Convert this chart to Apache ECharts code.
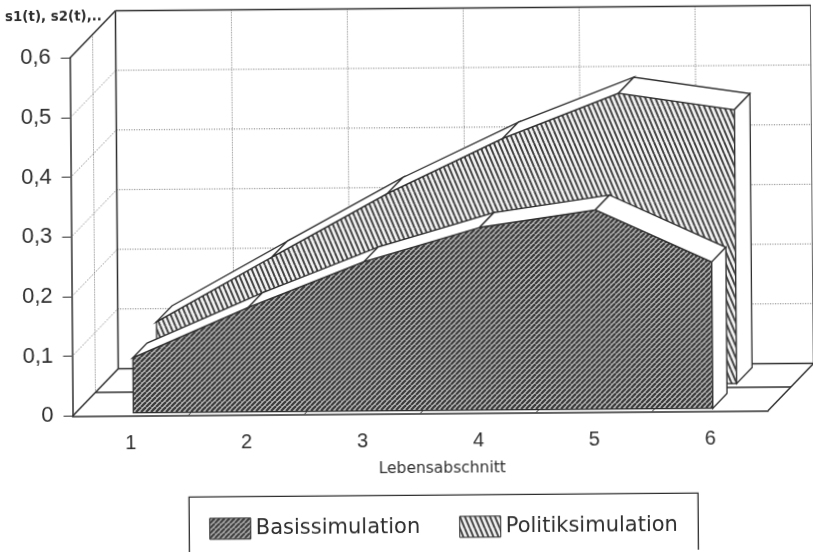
<!DOCTYPE html>
<html>
<head>
<meta charset="utf-8">
<style>
html,body{margin:0;padding:0;background:#fff;overflow:hidden}
#c{width:813px;height:552px;transform:rotate(-0.45deg);transform-origin:50% 50%;filter:blur(0.35px)}
</style>
<script src="https://cdn.jsdelivr.net/npm/echarts@6/dist/echarts.min.js"></script>
</head>
<body>
<div id="c"></div>
<script>
var categories = ['1','2','3','4','5','6'];
var basis = [0.092,0.175,0.25,0.306,0.334,0.245];
var politik = [0.111,0.218,0.323,0.414,0.488,0.459];
var yTicks = [0,0.1,0.2,0.3,0.4,0.5,0.6];

var DEPTH = [46,-47];
var BASIS_DEPTH = [0.06,0.37];
var POLITIK_DEPTH = [0.58,0.92];
var INK = '#2e2e2e';

function hatch(w,h,bg,fg,lw,dir){
  var cv = document.createElement('canvas');
  cv.width = w; cv.height = h;
  var x = cv.getContext('2d');
  x.fillStyle = bg; x.fillRect(0,0,w,h);
  x.strokeStyle = fg; x.lineWidth = lw;
  for (var k=-1;k<=1;k++){
    x.beginPath();
    if (dir>0){ x.moveTo(k*w,h); x.lineTo(k*w+w,0); }
    else { x.moveTo(k*w,0); x.lineTo(k*w+w,h); }
    x.stroke();
  }
  return {image:cv,repeat:'repeat'};
}
var basisFill = hatch(5,5,'#b8b8b8','#3a3a3a',2.2,1);
var politikFill = hatch(5,12,'#f2f2f2','#444',2,-1);

function shift(p,f){ return [p[0]+DEPTH[0]*f,p[1]+DEPTH[1]*f]; }
function lineShape(a,b,dotted,color,width){
  return {type:'line',shape:{x1:a[0],y1:a[1],x2:b[0],y2:b[1]},
    style:{stroke:color||INK,lineWidth:width||1.5,lineDash:dotted?[1,1.5]:null,fill:null},silent:true};
}

function wallsItem(params,api){
  if (params.dataIndex!==0) return null;
  var band = api.size([1,0])[0];
  var n = categories.length;
  var L = api.coord([0,0])[0]-band/2;
  var R = api.coord([n-1,0])[0]+band/2;
  var kids = [];
  var DOT='#707070';
  yTicks.forEach(function(v){
    var y = api.coord([0,v])[1];
    var a=[L,y], b=shift(a,1), c=[R+DEPTH[0],b[1]];
    if (v>0 && v<0.6){
      kids.push(lineShape(a,b,true,DOT,1));
      kids.push(lineShape(b,c,true,DOT,1));
    }
  });
  var y0 = api.coord([0,0])[1], yT = api.coord([0,0.6])[1];
  for (var i=1;i<n;i++){
    var x = L+band*i;
    kids.push(lineShape(shift([x,yT],1),shift([x,y0],1),true,DOT,1));
    kids.push(lineShape([x,y0],shift([x,y0],1),false,INK,1));
  }
  kids.push(lineShape(shift([L,yT],0.5),shift([L,y0],0.5),true,DOT,1));
  kids.push(lineShape([L,yT],shift([L,yT],1)));
  kids.push(lineShape(shift([L,yT],1),shift([R,yT],1)));
  kids.push(lineShape(shift([L,yT],1),shift([L,y0],1)));
  kids.push(lineShape(shift([R,yT],1),shift([R,y0],1)));
  kids.push(lineShape([L,y0],shift([L,y0],1)));
  kids.push(lineShape([R,y0],shift([R,y0],1)));
  kids.push(lineShape(shift([L,y0],1),shift([R,y0],1)));
  kids.push(lineShape(shift([L,y0],0.5),shift([R,y0],0.5)));
  return {type:'group',children:kids};
}

function slabItem(values,fill,d){
  return function(params,api){
    var i = params.dataIndex, n = values.length, kids = [];
    function top(k,f){ return shift(api.coord([k,values[k]]),f); }
    function base(k,f){ return shift(api.coord([k,0]),f); }
    if (i===0){
      var pts=[base(0,d[0])];
      for (var k=0;k<n;k++) pts.push(top(k,d[0]));
      pts.push(base(n-1,d[0]));
      kids.push({type:'polygon',shape:{points:pts},style:{fill:fill,stroke:INK,lineWidth:1.2},silent:true});
    }
    if (i<n-1){
      kids.push({type:'polygon',shape:{points:[top(i,d[0]),top(i+1,d[0]),top(i+1,d[1]),top(i,d[1])]},
        style:{fill:'#fff',stroke:INK,lineWidth:1.3},silent:true});
    } else {
      kids.push({type:'polygon',shape:{points:[top(i,d[0]),top(i,d[1]),base(i,d[1]),base(i,d[0])]},
        style:{fill:'#fff',stroke:INK,lineWidth:1.3},silent:true});
    }
    return {type:'group',children:kids};
  };
}

function rows(values){ return values.map(function(v,i){return [i,v];}); }

var chart = echarts.init(document.getElementById('c'),null,{renderer:'canvas'});
chart.setOption({
  animation:false,
  backgroundColor:'#fff',
  grid:{left:71.5,right:46,top:55.4,bottom:138.6,containLabel:false},
  graphic:[{
    type:'rect',silent:true,z:0,
    shape:{x:187.3,y:495.3,width:509,height:90},
    style:{fill:'#fff',stroke:INK,lineWidth:1.3}
  }],
  legend:{
    left:187.3,top:495.3,
    data:[
      {name:'Basissimulation',icon:'rect',itemStyle:{color:basisFill,borderColor:INK,borderWidth:1}},
      {name:'Politiksimulation',icon:'rect',itemStyle:{color:politikFill,borderColor:INK,borderWidth:1}}
    ],
    itemWidth:41,itemHeight:21,itemGap:39,
    padding:[21,18,10,20],
    selectedMode:false,
    textStyle:{fontFamily:'DejaVu Sans',fontSize:21,color:INK}
  },
  xAxis:{
    type:'category',data:categories,boundaryGap:true,
    name:'Lebensabschnitt',nameLocation:'middle',nameGap:48,
    nameTextStyle:{fontFamily:'DejaVu Sans',fontSize:15.5,color:INK,padding:[0,0,0,43]},
    axisLine:{lineStyle:{color:INK,width:1.5}},
    axisTick:{alignWithLabel:true,length:8,lineStyle:{color:INK}},
    axisLabel:{fontFamily:'Liberation Sans',fontSize:20,color:INK,margin:18},
    splitLine:{show:false}
  },
  yAxis:{
    type:'value',min:0,max:0.6,interval:0.1,
    name:'s1(t), s2(t),..',nameLocation:'end',nameGap:34,
    nameTextStyle:{fontFamily:'DejaVu Sans',fontWeight:'bold',fontSize:13.4,color:INK,padding:[0,32,0,0]},
    axisLine:{show:true,lineStyle:{color:INK,width:1.5}},
    axisTick:{show:true,length:9,lineStyle:{color:INK}},
    axisLabel:{fontFamily:'Liberation Sans',fontSize:22,color:INK,margin:19,
      formatter:function(v){return String(v).replace('.',',');}},
    splitLine:{show:false}
  },
  series:[
    {type:'custom',name:'walls',data:rows(yTicks),renderItem:wallsItem,z:1,silent:true,encode:{x:0,y:1}},
    {type:'custom',name:'Politiksimulation',data:rows(politik),renderItem:slabItem(politik,politikFill,POLITIK_DEPTH),z:2,silent:true,encode:{x:0,y:1},itemStyle:{color:politikFill}},
    {type:'custom',name:'Basissimulation',data:rows(basis),renderItem:slabItem(basis,basisFill,BASIS_DEPTH),z:3,silent:true,encode:{x:0,y:1},itemStyle:{color:basisFill}}
  ]
});
</script>
</body>
</html>
